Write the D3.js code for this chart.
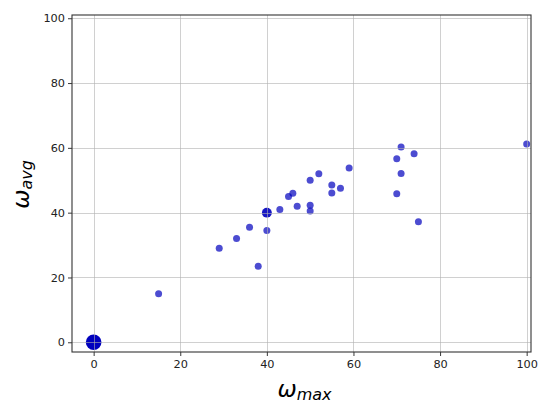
<!DOCTYPE html>
<html>
<head>
<meta charset="utf-8">
<script src="https://cdn.jsdelivr.net/npm/d3@7"></script>
<style>
  html, body { margin: 0; padding: 0; background: #fff; }
  svg { display: block; font-family: "DejaVu Sans", sans-serif; }
</style>
</head>
<body>
<svg id="chart" width="539" height="403"></svg>
<script>
// Maximum vs. average omega per sample; count = how many samples share a point
const omegaMax = [0, 15, 29, 33, 36, 38, 40, 40, 43, 45, 46, 47, 50, 50, 50, 52, 55, 55, 57, 59, 70, 71, 74, 70, 71, 75, 100];
const omegaAvg = [0, 15, 29, 32, 35.5, 23.5, 40, 34.5, 41, 45, 46, 42, 50, 42.3, 40.5, 52, 48.5, 46.1, 47.5, 53.8, 56.6, 60.3, 58.2, 45.8, 52.1, 37.2, 61.2];
const counts   = [5, 1, 1, 1, 1, 1, 2, 1, 1, 1, 1, 1, 1, 1, 1, 1, 1, 1, 1, 1, 1, 1, 1, 1, 1, 1, 1];
const xTicks = [0, 20, 40, 60, 80, 100];
const yTicks = [0, 20, 40, 60, 80, 100];

const svg = d3.select("#chart");
const plotL = 72, plotR = 531, plotT = 15, plotB = 352;

const x = d3.scaleLinear().domain([-5, 101]).range([plotL, plotR]);
const y = d3.scaleLinear().domain([-3, 101]).range([plotB, plotT]);

const points = omegaMax.map((v, i) => ({ x: v, y: omegaAvg[i], n: counts[i] }));

// markers (overlapping samples stack their transparency)
svg.append("g")
  .selectAll("circle")
  .data(points)
  .join("circle")
  .attr("cx", d => x(d.x))
  .attr("cy", d => y(d.y))
  .attr("r", d => 3.5 * Math.sqrt(d.n))
  .attr("fill", "rgb(0,0,190)")
  .attr("fill-opacity", d => 1 - Math.pow(0.3, d.n));

// grid lines sit above the markers
const grid = svg.append("g").attr("stroke", "#b0b0b0").attr("stroke-opacity", 0.6).attr("stroke-width", 1);
grid.selectAll("line.gx").data(xTicks).join("line").attr("class", "gx")
  .attr("x1", d => Math.round(x(d)) + 0.5).attr("x2", d => Math.round(x(d)) + 0.5)
  .attr("y1", plotT).attr("y2", plotB);
grid.selectAll("line.gy").data(yTicks).join("line").attr("class", "gy")
  .attr("y1", d => Math.round(y(d)) + 0.5).attr("y2", d => Math.round(y(d)) + 0.5)
  .attr("x1", plotL).attr("x2", plotR);

// axes
const xAxis = d3.axisBottom(x).tickValues(xTicks).tickSize(4).tickPadding(4).tickSizeOuter(0);
const yAxis = d3.axisLeft(y).tickValues(yTicks).tickSize(4).tickPadding(3).tickSizeOuter(0);

const gx = svg.append("g").attr("transform", `translate(0,${plotB})`).call(xAxis);
const gy = svg.append("g").attr("transform", `translate(${plotL},0)`).call(yAxis);
[gx, gy].forEach(g => {
  g.select(".domain").remove();
  g.selectAll(".tick line").attr("stroke", "#222").attr("stroke-width", 0.9);
  g.selectAll(".tick text").attr("fill", "#222").style("font-size", "11.3px")
    .style("font-family", "'DejaVu Sans', sans-serif");
});

// frame
svg.append("rect")
  .attr("x", plotL).attr("y", plotT)
  .attr("width", plotR - plotL).attr("height", plotB - plotT)
  .attr("fill", "none").attr("stroke", "#333").attr("stroke-width", 1.1);

// axis titles
const xt = svg.append("text")
  .attr("x", (plotL + plotR) / 2 + 3).attr("y", 397)
  .attr("text-anchor", "middle")
  .style("font-family", "'DejaVu Sans', sans-serif")
  .style("font-style", "italic")
  .attr("fill", "#000");
xt.append("tspan").style("font-size", "23px").text("ω");
xt.append("tspan").style("font-size", "16px").attr("dy", 3).text("max");

const yt = svg.append("text")
  .attr("transform", `translate(29,${(plotT + plotB) / 2 + 1}) rotate(-90)`)
  .attr("text-anchor", "middle")
  .style("font-family", "'DejaVu Sans', sans-serif")
  .style("font-style", "italic")
  .attr("fill", "#000");
yt.append("tspan").style("font-size", "23px").text("ω");
yt.append("tspan").style("font-size", "16px").attr("dy", 3).text("avg");
</script>
</body>
</html>
